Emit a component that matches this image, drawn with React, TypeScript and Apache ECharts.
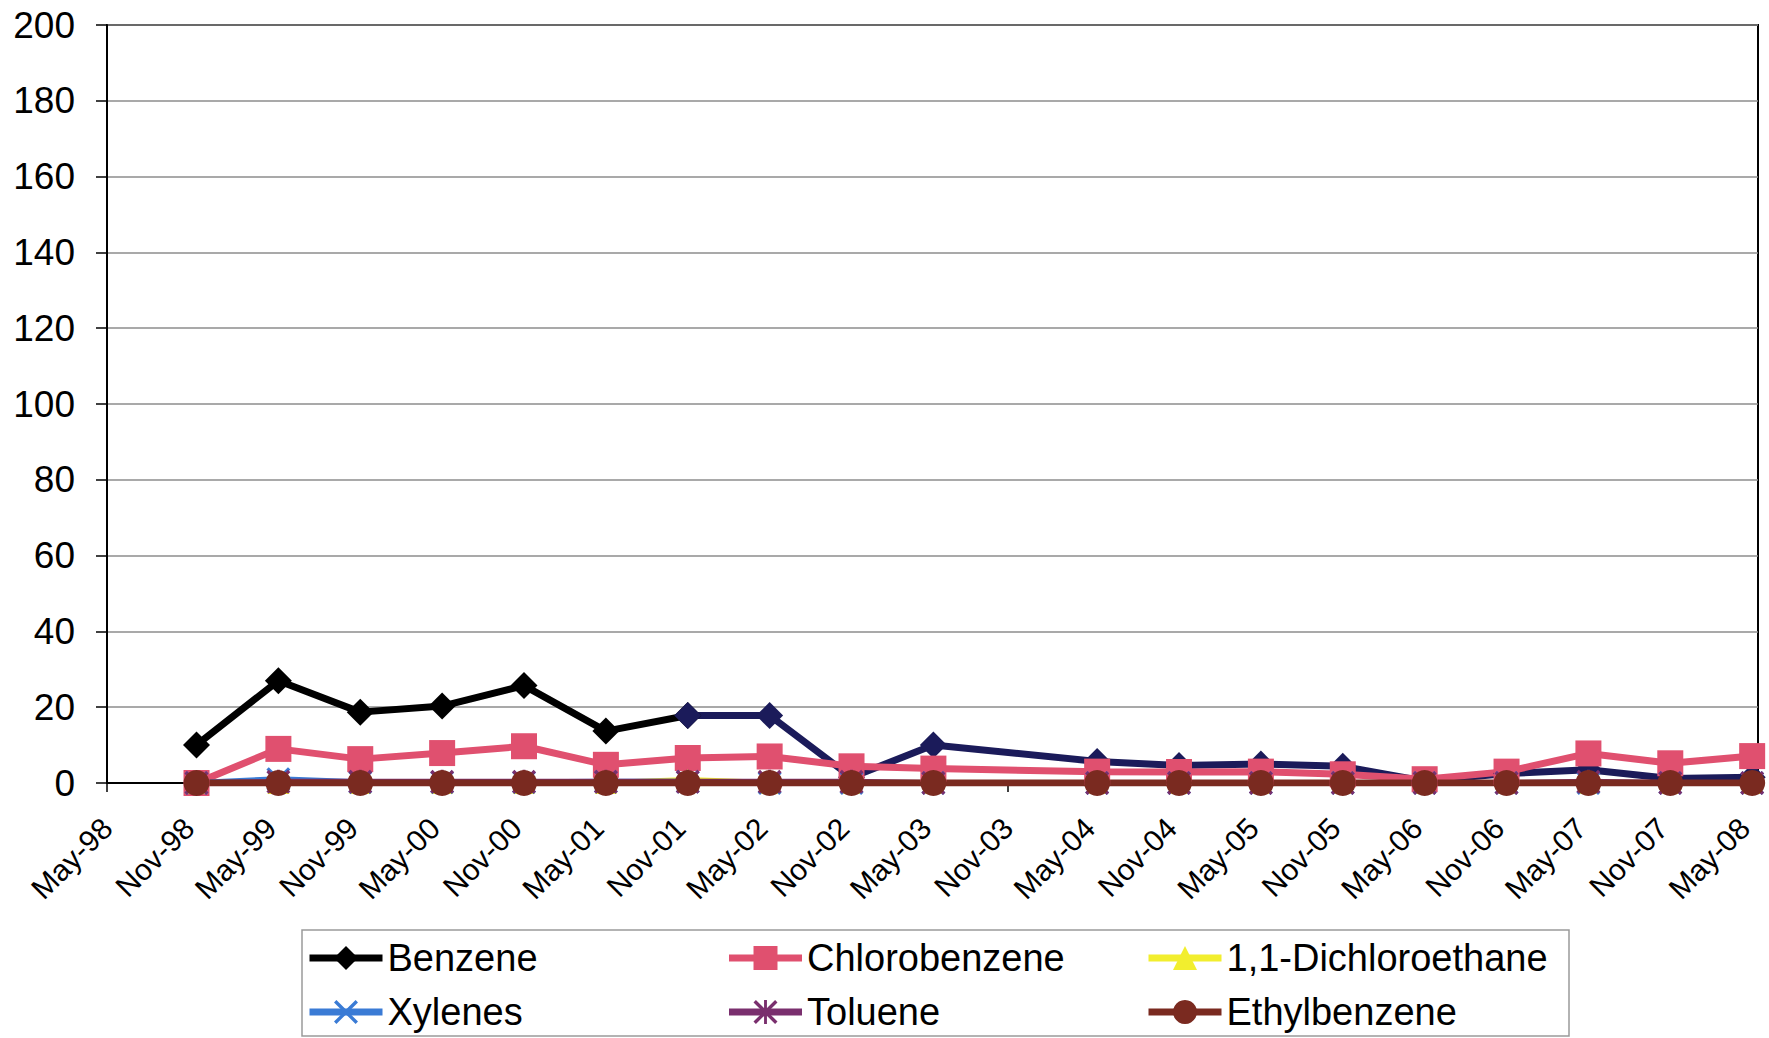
import React, { useEffect, useRef } from "react";
import * as echarts from "echarts";

// ---- data ----
const sampleDates = [
  "1998-11-18", "1999-05-18", "1999-11-18", "2000-05-18", "2000-11-18",
  "2001-05-18", "2001-11-18", "2002-05-18", "2002-11-18", "2003-05-18",
  "2004-05-18", "2004-11-18", "2005-05-18", "2005-11-18", "2006-05-18",
  "2006-11-18", "2007-05-18", "2007-11-18", "2008-05-18",
];
const benzene = [10, 27, 18.7, 20.3, 25.7, 13.7, 17.8, 17.8, 1.5, 10, 5.7, 4.6, 5, 4.4, 0.5, 2.5, 3.5, 1.2, 1.5];
const chlorobenzene = [0, 9, 6.3, 7.9, 9.7, 4.8, 6.6, 7, 4.4, 3.8, 3, 2.9, 3, 2.3, 1, 3, 7.8, 5.2, 7.1];
const dichloroethane = [0, 0, 0, 0, 0, 0, 0.8, 0, 0, 0, 0, 0, 0, 0, 0, 0, 0, 0, 0];
const xylenes = [0, 1, 0.2, 0.2, 0.2, 0.3, 0.3, 0, 0, 0, 0, 0, 0, 0, 0, 0, 0, 0, 0];
const toluene = [0, 0.3, 0.3, 0.3, 0.3, 0.3, 0.3, 0.3, 0.3, 0, 0, 0, 0, 0, 0, 0, 0.3, 0, 0];
const ethylbenzene = [0, 0, 0, 0, 0, 0, 0, 0, 0, 0, 0, 0, 0, 0, 0, 0, 0, 0, 0];

const tickLabels = [
  "May-98", "Nov-98", "May-99", "Nov-99", "May-00", "Nov-00", "May-01",
  "Nov-01", "May-02", "Nov-02", "May-03", "Nov-03", "May-04", "Nov-04",
  "May-05", "Nov-05", "May-06", "Nov-06", "May-07", "Nov-07", "May-08",
];
const yTicks = [0, 20, 40, 60, 80, 100, 120, 140, 160, 180, 200];
const axisStart = "1998-05-01";
const axisEnd = "2008-05-31";
const colorChangeIndex = 6; // benzene line is drawn dark navy from Nov-01 on
const monthsPerTick = 6;

// months elapsed since axisStart (fractional)
function toMonths(s: string): number {
  const [y, m, d] = s.split("-").map(Number);
  const [y0, m0, d0] = axisStart.split("-").map(Number);
  return (y - y0) * 12 + (m - m0) + (d - d0) / 30.4;
}

const FONT = "Liberation Sans, Arial, sans-serif";

export default function App() {
  const ref = useRef<HTMLDivElement>(null);
  useEffect(() => {
    if (!ref.current) return;
    const chart = echarts.init(ref.current, undefined, { renderer: "svg" });
    const xs = sampleDates.map(toMonths);
    const pair = (arr: number[], from = 0, to = arr.length) =>
      arr.map((v, i) => [xs[i], v]).slice(from, to);
    const xSymbol = "path://M0,1L1,0L5,4L9,0L10,1L6,5L10,9L9,10L5,6L1,10L0,9L4,5Z";
    const starSymbol =
      "path://M0,1L1,0L5,4L9,0L10,1L6,5L10,9L9,10L5,6L1,10L0,9L4,5Z M4.4,0L5.6,0L5.6,10L4.4,10Z";

    const mk = (name: string, data: number[][], color: string, symbol: string, size: number, width: number) => ({
      name,
      type: "line",
      data,
      symbol,
      symbolSize: size,
      showSymbol: true,
      itemStyle: { color },
      lineStyle: { color, width },
      emphasis: { disabled: true },
    });

    chart.setOption({
      animation: false,
      backgroundColor: "#ffffff",
      grid: {
        left: 107,
        right: 11,
        top: 25,
        bottom: 255,
        show: true,
        borderColor: "#000",
        borderWidth: 2,
        backgroundColor: "transparent",
      },
      xAxis: {
        type: "value",
        min: 0,
        max: toMonths(axisEnd),
        interval: monthsPerTick,
        axisLine: { show: true, lineStyle: { color: "#000", width: 2 } },
        axisTick: { show: true, length: 9, lineStyle: { color: "#000", width: 1.5 } },
        splitLine: { show: false },
        axisLabel: {
          formatter: (v: number) => {
            const i = Math.round(v / monthsPerTick);
            if (Math.abs(v - i * monthsPerTick) > 0.01) return "";
            return tickLabels[i] ?? "";
          },
          rotate: 45,
          margin: 40,
          fontSize: 30,
          fontFamily: FONT,
          color: "#000",
          hideOverlap: false,
          showMaxLabel: false,
        },
      },
      yAxis: {
        type: "value",
        min: yTicks[0],
        max: yTicks[yTicks.length - 1],
        interval: yTicks[1] - yTicks[0],
        axisLine: { show: true, lineStyle: { color: "#000", width: 2 } },
        axisTick: { show: true, length: 11, lineStyle: { color: "#000", width: 1.5 } },
        splitLine: { show: true, lineStyle: { color: "#8c8c8c", width: 1.5 } },
        axisLabel: { fontSize: 37, fontFamily: FONT, color: "#000", margin: 32 },
      },
      legend: {
        left: 306,
        top: 931,
        width: 1330,
        orient: "horizontal",
        itemGap: 0,
        itemWidth: 73,
        itemHeight: 30,
        padding: 0,
        selectedMode: false,
        lineStyle: { width: 7 },
        textStyle: {
          fontSize: 38,
          fontFamily: FONT,
          color: "#000",
          width: 338,
          lineHeight: 54,
          overflow: "none",
        },
        data: ["Benzene", "Chlorobenzene", "1,1-Dichloroethane", "Xylenes", "Toluene", "Ethylbenzene"],
      },
      graphic: [
        {
          type: "rect",
          shape: { x: 302, y: 930, width: 1267, height: 106 },
          style: { fill: "none", stroke: "#9a9a9a", lineWidth: 1.5 },
          silent: true,
        },
      ],
      series: [
        mk("Benzene", pair(benzene, 0, colorChangeIndex + 1), "#000000", "diamond", 27, 7),
        mk("Benzene", pair(benzene, colorChangeIndex), "#1b1b5a", "diamond", 27, 7),
        mk("Chlorobenzene", pair(chlorobenzene), "#e0506f", "rect", 26, 7),
        mk("1,1-Dichloroethane", pair(dichloroethane), "#f2ee2e", "triangle", 22, 6),
        mk("Xylenes", pair(xylenes), "#3a7bd5", xSymbol, 24, 6),
        mk("Toluene", pair(toluene), "#7a2f6e", starSymbol, 24, 6),
        mk("Ethylbenzene", pair(ethylbenzene), "#7a2a20", "circle", 26, 7),
      ],
    });
    return () => chart.dispose();
  }, []);
  return (
    <div
      ref={ref}
      style={{ position: "absolute", left: 0, top: 0, width: 1769, height: 1038, background: "#fff" }}
    />
  );
}
